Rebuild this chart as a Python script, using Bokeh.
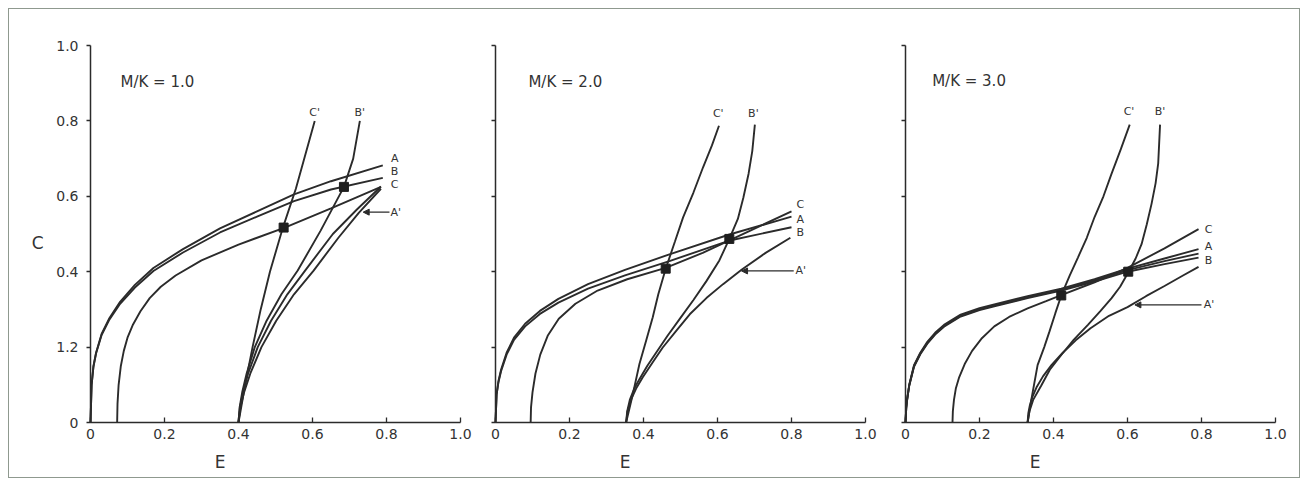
from bokeh.plotting import figure
from bokeh.layouts import row
from bokeh.models import Label, Arrow, NormalHead, FixedTicker, Range1d
from bokeh.embed import file_html
from bokeh.resources import INLINE

# ---------------- data (E, C) ----------------
ticks = [0, 0.2, 0.4, 0.6, 0.8, 1.0]
x_tick_labels = ["0", "0.2", "0.4", "0.6", "0.8", "1.0"]
y_tick_labels = ["0", "1.2", "0.4", "0.6", "0.8", "1.0"]
panel_titles = ["M/K = 1.0", "M/K = 2.0", "M/K = 3.0"]

# Panel 1  (M/K = 1.0)
p1_A_E = [0, 0.003, 0.008, 0.015, 0.03, 0.05, 0.08, 0.12, 0.17, 0.25, 0.35, 0.45, 0.55, 0.65, 0.79]
p1_A_C = [0, 0.10, 0.15, 0.185, 0.235, 0.275, 0.32, 0.365, 0.41, 0.46, 0.515, 0.56, 0.605, 0.64, 0.682]
p1_B_E = [0, 0.003, 0.008, 0.015, 0.03, 0.05, 0.08, 0.12, 0.17, 0.25, 0.35, 0.45, 0.55, 0.65, 0.79]
p1_B_C = [0, 0.099, 0.148, 0.183, 0.232, 0.271, 0.315, 0.358, 0.402, 0.451, 0.504, 0.546, 0.587, 0.618, 0.649]
p1_C_E = [0.072, 0.073, 0.076, 0.082, 0.09, 0.10, 0.115, 0.135, 0.16, 0.19, 0.23, 0.30, 0.40, 0.525, 0.65, 0.785]
p1_C_C = [0, 0.05, 0.10, 0.15, 0.19, 0.225, 0.26, 0.295, 0.33, 0.36, 0.39, 0.43, 0.472, 0.517, 0.568, 0.625]
p1_Cp_E = [0.40, 0.418, 0.438, 0.46, 0.485, 0.52, 0.555, 0.606]
p1_Cp_C = [0, 0.10, 0.20, 0.30, 0.40, 0.517, 0.62, 0.80]
p1_Bp_E = [0.40, 0.403, 0.41, 0.422, 0.444, 0.476, 0.516, 0.56, 0.622, 0.685, 0.71, 0.728]
p1_Bp_C = [0, 0.04, 0.08, 0.13, 0.20, 0.27, 0.34, 0.403, 0.509, 0.625, 0.70, 0.80]
p1_X_E = [0.40, 0.404, 0.412, 0.426, 0.452, 0.488, 0.532, 0.58, 0.655, 0.72, 0.785]
p1_X_C = [0, 0.04, 0.08, 0.13, 0.20, 0.27, 0.34, 0.403, 0.50, 0.565, 0.626]
p1_Ap_E = [0.40, 0.405, 0.415, 0.432, 0.462, 0.502, 0.55, 0.603, 0.67, 0.725, 0.785]
p1_Ap_C = [0, 0.04, 0.08, 0.13, 0.20, 0.27, 0.34, 0.403, 0.49, 0.556, 0.62]
p1_sq_E = [0.522, 0.685]
p1_sq_C = [0.517, 0.625]

# Panel 2  (M/K = 2.0)
p2_A_E = [0, 0.003, 0.008, 0.015, 0.03, 0.05, 0.08, 0.12, 0.17, 0.25, 0.35, 0.47, 0.63, 0.80]
p2_A_C = [0, 0.075, 0.11, 0.14, 0.185, 0.225, 0.262, 0.296, 0.328, 0.367, 0.405, 0.446, 0.498, 0.546]
p2_B_E = [0, 0.003, 0.008, 0.015, 0.03, 0.05, 0.08, 0.12, 0.17, 0.25, 0.35, 0.47, 0.63, 0.80]
p2_B_C = [0, 0.073, 0.107, 0.136, 0.18, 0.219, 0.255, 0.288, 0.318, 0.355, 0.39, 0.428, 0.482, 0.518]
p2_C_E = [0.095, 0.096, 0.10, 0.108, 0.121, 0.141, 0.171, 0.216, 0.276, 0.356, 0.46, 0.56, 0.68, 0.80]
p2_C_C = [0, 0.04, 0.08, 0.13, 0.18, 0.23, 0.275, 0.315, 0.35, 0.38, 0.41, 0.45, 0.505, 0.56]
p2_Cp_E = [0.353, 0.37, 0.389, 0.408, 0.425, 0.44, 0.46, 0.485, 0.507, 0.535, 0.561, 0.585, 0.604]
p2_Cp_C = [0, 0.07, 0.155, 0.22, 0.279, 0.34, 0.408, 0.48, 0.544, 0.61, 0.677, 0.735, 0.787]
p2_Bp_E = [0.353, 0.356, 0.363, 0.375, 0.389, 0.41, 0.434, 0.465, 0.498, 0.535, 0.57, 0.605, 0.632, 0.655, 0.67, 0.684, 0.694, 0.701]
p2_Bp_C = [0, 0.03, 0.06, 0.09, 0.115, 0.15, 0.185, 0.23, 0.275, 0.325, 0.375, 0.43, 0.487, 0.54, 0.597, 0.66, 0.72, 0.79]
p2_Ap_E = [0.353, 0.357, 0.366, 0.38, 0.398, 0.425, 0.452, 0.49, 0.525, 0.57, 0.615, 0.665, 0.73, 0.797]
p2_Ap_C = [0, 0.03, 0.06, 0.09, 0.12, 0.16, 0.199, 0.245, 0.287, 0.33, 0.367, 0.405, 0.45, 0.49]
p2_sq_E = [0.46, 0.632]
p2_sq_C = [0.408, 0.487]

# Panel 3  (M/K = 3.0)
p3_A_E = [0, 0.002, 0.0045, 0.01, 0.023, 0.04, 0.059, 0.08, 0.104, 0.149, 0.20, 0.24, 0.33, 0.421, 0.511, 0.60, 0.70, 0.792]
p3_A_C = [0, 0.04, 0.0625, 0.10, 0.152, 0.185, 0.214, 0.238, 0.259, 0.286, 0.303, 0.313, 0.335, 0.355, 0.38, 0.408, 0.435, 0.46]
p3_B_E = [0, 0.002, 0.0045, 0.01, 0.023, 0.04, 0.059, 0.08, 0.104, 0.149, 0.20, 0.24, 0.33, 0.421, 0.511, 0.60, 0.70, 0.792]
p3_B_C = [0, 0.038, 0.06, 0.097, 0.148, 0.181, 0.209, 0.233, 0.254, 0.281, 0.298, 0.308, 0.33, 0.35, 0.374, 0.40, 0.42, 0.4375]
p3_X_E = [0, 0.002, 0.0045, 0.01, 0.023, 0.04, 0.059, 0.08, 0.104, 0.149, 0.20, 0.24, 0.33, 0.421, 0.511, 0.60, 0.70, 0.792]
p3_X_C = [0, 0.039, 0.061, 0.098, 0.15, 0.183, 0.211, 0.235, 0.256, 0.283, 0.30, 0.31, 0.332, 0.352, 0.377, 0.404, 0.428, 0.448]
p3_C_E = [0.127, 0.128, 0.131, 0.136, 0.145, 0.16, 0.18, 0.205, 0.24, 0.28, 0.33, 0.38, 0.421, 0.511, 0.60, 0.70, 0.792]
p3_C_C = [0, 0.03, 0.06, 0.09, 0.12, 0.155, 0.19, 0.222, 0.255, 0.28, 0.303, 0.322, 0.338, 0.372, 0.41, 0.462, 0.513]
p3_Cp_E = [0.33, 0.34, 0.357, 0.375, 0.389, 0.405, 0.421, 0.444, 0.466, 0.49, 0.511, 0.535, 0.557, 0.582, 0.606]
p3_Cp_C = [0, 0.06, 0.152, 0.20, 0.241, 0.29, 0.337, 0.39, 0.4375, 0.49, 0.545, 0.60, 0.66, 0.725, 0.79]
p3_Bp_E = [0.33, 0.335, 0.345, 0.367, 0.39, 0.421, 0.455, 0.493, 0.526, 0.557, 0.58, 0.602, 0.622, 0.638, 0.652, 0.665, 0.676, 0.683, 0.688]
p3_Bp_C = [0, 0.03, 0.06, 0.098, 0.14, 0.179, 0.22, 0.259, 0.295, 0.33, 0.36, 0.398, 0.435, 0.473, 0.525, 0.58, 0.635, 0.6875, 0.79]
p3_Ap_E = [0.33, 0.332, 0.336, 0.343, 0.355, 0.372, 0.395, 0.425, 0.46, 0.50, 0.55, 0.60, 0.65, 0.70, 0.75, 0.792]
p3_Ap_C = [0, 0.025, 0.045, 0.068, 0.095, 0.123, 0.153, 0.185, 0.218, 0.25, 0.283, 0.306, 0.335, 0.362, 0.39, 0.413]
p3_sq_E = [0.421, 0.602]
p3_sq_C = [0.337, 0.40]

panel_curves = [
    [(p1_A_E, p1_A_C), (p1_B_E, p1_B_C), (p1_C_E, p1_C_C), (p1_Cp_E, p1_Cp_C),
     (p1_Bp_E, p1_Bp_C), (p1_X_E, p1_X_C), (p1_Ap_E, p1_Ap_C)],
    [(p2_A_E, p2_A_C), (p2_B_E, p2_B_C), (p2_C_E, p2_C_C), (p2_Cp_E, p2_Cp_C),
     (p2_Bp_E, p2_Bp_C), (p2_Ap_E, p2_Ap_C)],
    [(p3_A_E, p3_A_C), (p3_B_E, p3_B_C), (p3_X_E, p3_X_C), (p3_C_E, p3_C_C),
     (p3_Cp_E, p3_Cp_C), (p3_Bp_E, p3_Bp_C), (p3_Ap_E, p3_Ap_C)],
]
panel_squares = [(p1_sq_E, p1_sq_C), (p2_sq_E, p2_sq_C), (p3_sq_E, p3_sq_C)]

# curve-label annotations (text, E, C)
panel_labels = [
    [("C'", 0.606, 0.823), ("B'", 0.728, 0.823), ("A", 0.822, 0.70), ("B", 0.822, 0.665),
     ("C", 0.822, 0.631), ("A'", 0.825, 0.558)],
    [("C'", 0.602, 0.82), ("B'", 0.697, 0.82), ("C", 0.824, 0.579), ("A", 0.824, 0.539),
     ("B", 0.824, 0.504), ("A'", 0.825, 0.402)],
    [("C'", 0.604, 0.825), ("B'", 0.688, 0.825), ("C", 0.819, 0.513), ("A", 0.819, 0.466),
     ("B", 0.819, 0.43), ("A'", 0.82, 0.312)],
]
panel_arrows = [(0.808, 0.737, 0.558), (0.806, 0.665, 0.402), (0.80, 0.62, 0.312)]
title_pos = [(0.081, 0.903), (0.089, 0.903), (0.072, 0.905)]

INK = "#2b2b2b"
FONT = "DejaVu Sans"

# view windows (data units) of the three panels; 370 px per unit in E, 377 px per unit in C
x_windows = [(-81 / 370, 385 / 370), (-20 / 370, 390 / 370), (-20 / 370, 394 / 370)]
frame_widths = [466, 410, 414]
y_window = (-55 / 377, 1 + 36 / 377)
frame_height = 468

figs = []
for i in range(3):
    p = figure(frame_width=frame_widths[i], frame_height=frame_height,
               x_range=Range1d(*x_windows[i]), y_range=Range1d(*y_window),
               output_backend="svg", toolbar_location=None,
               min_border=0)
    p.grid.visible = False
    p.outline_line_color = None
    p.background_fill_color = "white"
    p.border_fill_color = "white"

    p.xaxis.fixed_location = 0
    p.yaxis.fixed_location = 0
    p.xaxis.bounds = (0, 1)
    p.yaxis.bounds = (0, 1)
    p.xaxis.ticker = FixedTicker(ticks=ticks)
    p.yaxis.ticker = FixedTicker(ticks=ticks)
    p.xaxis.major_label_overrides = {t: s for t, s in zip(ticks, x_tick_labels)}
    if i == 0:
        p.yaxis.major_label_overrides = {t: s for t, s in zip(ticks, y_tick_labels)}
    else:
        p.yaxis.major_label_overrides = {t: "" for t in ticks}
    for ax in (p.xaxis, p.yaxis):
        ax.axis_line_color = INK
        ax.axis_line_width = 1.5
        ax.major_tick_line_color = INK
        ax.major_tick_line_width = 1.3
        ax.minor_tick_line_color = None
        ax.major_label_text_font = FONT
        ax.major_label_text_font_size = "14px"
        ax.major_label_text_color = "#333333"
    p.xaxis.major_tick_in = 5
    p.xaxis.major_tick_out = 0
    p.xaxis.major_label_standoff = 6
    p.yaxis.major_tick_in = 0
    p.yaxis.major_tick_out = 4
    p.yaxis.major_label_standoff = 8

    for (xs, ys) in panel_curves[i]:
        p.line(xs, ys, line_color=INK, line_width=1.9)
    sx, sy = panel_squares[i]
    p.scatter(sx, sy, marker="square", size=9, color="#1e1e1e")

    for (t, x, y) in panel_labels[i]:
        p.add_layout(Label(x=x, y=y, text=t, text_font=FONT, text_font_size="11px",
                           text_color="#333333", text_align="center", text_baseline="middle"))
    xs0, xe0, ya = panel_arrows[i]
    p.add_layout(Arrow(end=NormalHead(size=6, fill_color=INK, line_color=INK),
                       x_start=xs0, y_start=ya, x_end=xe0, y_end=ya,
                       line_color=INK, line_width=1.3))
    tx, ty = title_pos[i]
    p.add_layout(Label(x=tx, y=ty, text=panel_titles[i], text_font=FONT, text_font_size="15px",
                       text_color="#333333", text_align="left", text_baseline="middle"))
    # axis titles
    p.add_layout(Label(x=0.35, y=-0.106, text="E", text_font=FONT, text_font_size="17px",
                       text_color="#333333", text_align="center", text_baseline="middle"))
    if i == 0:
        p.add_layout(Label(x=-0.143, y=0.475, text="C", text_font=FONT, text_font_size="17px",
                           text_color="#333333", text_align="center", text_baseline="middle"))
    figs.append(p)

layout = row(*figs, styles={"border": "1px solid #8f998f", "margin": "8px 0 0 8px"})
open("out.html", "w").write(file_html(layout, INLINE))
